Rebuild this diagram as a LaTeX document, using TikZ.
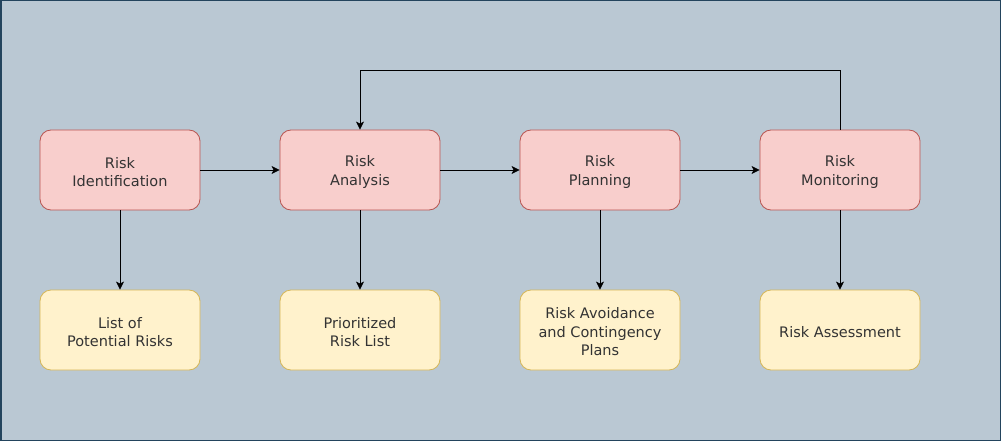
\documentclass[tikz,border=0pt]{standalone}
\usepackage{fontspec}
\setmainfont{DejaVu Sans}
\usetikzlibrary{arrows.meta}
\definecolor{bgc}{HTML}{BAC8D3}
\definecolor{bgs}{HTML}{23445D}
\definecolor{rf}{HTML}{F8CECC}
\definecolor{rs}{HTML}{B85450}
\definecolor{yf}{HTML}{FFF2CC}
\definecolor{ys}{HTML}{D6B656}
\definecolor{txt}{HTML}{333333}
\tikzset{
  lbl/.style={align=center, text=txt, inner sep=0pt, yshift=-2pt, font=\fontsize{14.5pt}{18.5pt}\selectfont},
  box/.style={rounded corners=11pt, minimum width=160pt, minimum height=80pt, inner sep=0pt, line width=0.8pt},
  redbox/.style={box, fill=rf, draw=rs},
  yelbox/.style={box, fill=yf, draw=ys},
  conn/.style={draw=black, line width=0.8pt, -{Stealth[length=8pt,width=8pt,inset=2pt]}}
}
\begin{document}
\begin{tikzpicture}[x=1pt,y=-1pt]
\path[fill=bgc, draw=bgs, line width=1.5pt] (0.75,0.75) rectangle (1000.25,440.25);
\useasboundingbox (0,0) rectangle (1001,441);
\node[redbox, label={[lbl]center:{Risk\\Identification}}] (ri) at (120,170) {};
\node[redbox, label={[lbl]center:{Risk\\Analysis}}] (ra) at (360,170) {};
\node[redbox, label={[lbl]center:{Risk\\Planning}}] (rp) at (600,170) {};
\node[redbox, label={[lbl]center:{Risk\\Monitoring}}] (rm) at (840,170) {};
\node[yelbox, label={[lbl]center:{List of\\Potential Risks}}] (lp) at (120,330) {};
\node[yelbox, label={[lbl]center:{Prioritized\\Risk List}}] (pr) at (360,330) {};
\node[yelbox, label={[lbl]center:{Risk Avoidance\\and Contingency\\Plans}}] (av) at (600,330) {};
\node[yelbox, label={[lbl]center:{Risk Assessment}}] (as) at (840,330) {};
\coordinate (c1) at (840,70);
\coordinate (c2) at (360,70);
\draw[conn] (ri) -- (ra);
\draw[conn] (ra) -- (rp);
\draw[conn] (rp) -- (rm);
\draw[conn] (ri) -- (lp);
\draw[conn] (ra) -- (pr);
\draw[conn] (rp) -- (av);
\draw[conn] (rm) -- (as);
\draw[conn] (rm.north) -- (c1) -- (c2) -- (ra.north);
\end{tikzpicture}
\end{document}
